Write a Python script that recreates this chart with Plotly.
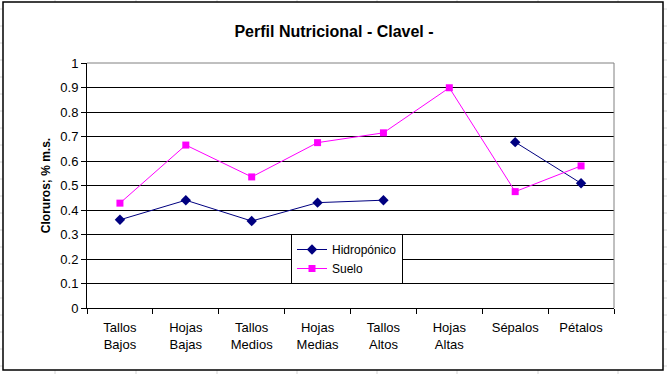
import plotly.graph_objects as go

categories = ["Tallos<br>Bajos", "Hojas<br>Bajas", "Tallos<br>Medios", "Hojas<br>Medias",
              "Tallos<br>Altos", "Hojas<br>Altas", "Sépalos", "Pétalos"]
hidroponico = [0.36, 0.44, 0.355, 0.43, 0.44, None, 0.677, 0.509]
suelo = [0.428, 0.665, 0.535, 0.675, 0.715, 0.899, 0.475, 0.58]

W, H = 667, 374
L, R, T, B = 87, 614, 63, 308
pw, ph = R - L, B - T

def px(x):
    return (x - L) / pw

def py(y):
    return (B - y) / ph

fig = go.Figure()
fig.add_trace(go.Scatter(x=categories, y=hidroponico, name="Hidropónico", mode="lines+markers",
                         line=dict(color="#000080", width=1),
                         marker=dict(symbol="diamond", size=8, color="#000080"),
                         connectgaps=False))
fig.add_trace(go.Scatter(x=categories, y=suelo, name="Suelo", mode="lines+markers",
                         line=dict(color="#FF00FF", width=1),
                         marker=dict(symbol="square", size=7, color="#FF00FF")))

# faint spreadsheet cell lines outside the chart frame
cell = dict(color="#d4d4d4", width=1)
shapes = []
for xc in [55, 136, 217, 297, 377, 457, 538, 618]:
    shapes.append(dict(type="line", xref="paper", yref="paper", x0=px(xc), x1=px(xc),
                       y0=py(0), y1=py(2), line=cell, layer="below"))
    shapes.append(dict(type="line", xref="paper", yref="paper", x0=px(xc), x1=px(xc),
                       y0=py(370), y1=py(374), line=cell, layer="below"))
for k in range(22):
    yc = 9 + 17 * k
    shapes.append(dict(type="line", xref="paper", yref="paper", x0=px(0), x1=px(3),
                       y0=py(yc), y1=py(yc), line=cell, layer="below"))
    shapes.append(dict(type="line", xref="paper", yref="paper", x0=px(663), x1=px(667),
                       y0=py(yc), y1=py(yc), line=cell, layer="below"))

shapes += [
    dict(type="line", xref="paper", yref="paper", x0=0, x1=1, y0=1, y1=1,
         line=dict(color="#808080", width=1), layer="above"),
    dict(type="line", xref="paper", yref="paper", x0=1, x1=1, y0=0, y1=1,
         line=dict(color="#808080", width=1), layer="above"),
    dict(type="rect", xref="paper", yref="paper", x0=px(3), x1=px(663), y0=py(370), y1=py(2),
         line=dict(color="black", width=1.5), layer="below"),
]

fig.update_layout(
    width=W, height=H,
    margin=dict(l=L, r=W - R, t=T, b=H - B),
    paper_bgcolor="white", plot_bgcolor="white",
    font=dict(family="Liberation Sans, Arial, sans-serif", size=13, color="black"),
    title=dict(text="<b>Perfil Nutricional - Clavel -</b>", x=334 / W, xanchor="center",
               y=1 - 31 / H, yanchor="middle", font=dict(size=16)),
    showlegend=True,
    legend=dict(x=px(291), y=py(234), xanchor="left", yanchor="top",
                bordercolor="black", borderwidth=1, bgcolor="white",
                font=dict(size=12), tracegroupgap=0, itemwidth=30),
    xaxis=dict(type="category", showgrid=False, showline=True, linecolor="black", linewidth=1,
               ticks="outside", tickson="boundaries", ticklen=5, tickcolor="black",
               tickfont=dict(size=13), range=[-0.5, 7.5], fixedrange=True,
               ticklabelstandoff=7),
    yaxis=dict(range=[0, 1], dtick=0.1, showgrid=True, gridcolor="black", gridwidth=1,
               showline=True, linecolor="black", linewidth=1, ticks="outside", ticklen=5,
               tickcolor="black", tickfont=dict(size=13), zeroline=False,
               title=dict(text="<b>Cloruros; % m.s.</b>", font=dict(size=12), standoff=7)),
    shapes=shapes,
)

fig.write_html("out.html", config={"displayModeBar": False},
               post_script="document.body.style.margin='0';")
